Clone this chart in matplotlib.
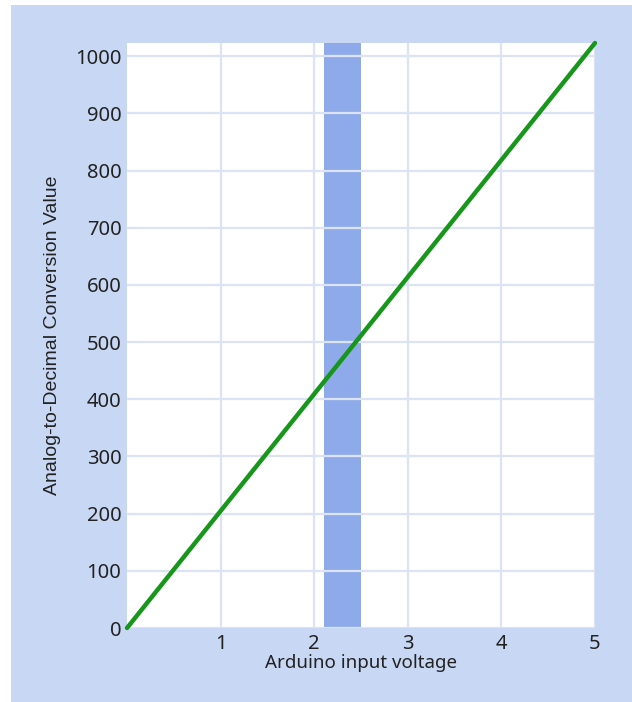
import matplotlib.pyplot as plt
from matplotlib.patches import Rectangle

# Arduino ADC transfer line and highlighted band
voltage = [0, 5]
adc_value = [0, 1023]
band = [2.1, 2.5]
x_ticks = [1, 2, 3, 4, 5]
y_ticks = [0, 100, 200, 300, 400, 500, 600, 700, 800, 900, 1000]

bg = '#c8d8f4'
grid_col = '#dce3f4'
tick_font = ['Noto Sans', 'DejaVu Sans']

fig = plt.figure(figsize=(6.32, 7.02), dpi=100)
fig.patches.append(Rectangle((11 / 632, 0), 1, 1 - 5 / 702, transform=fig.transFigure,
                             facecolor=bg, edgecolor='none', zorder=-10))

ax = fig.add_axes([127 / 632, 74 / 702, 468 / 632, 585 / 702])
ax.set_facecolor('white')
ax.axvspan(band[0], band[1], color='#8eaaea', zorder=1, lw=0)
ax.plot(voltage, adc_value, color='#17961c', lw=3.2, solid_capstyle='round', zorder=3,
        clip_on=False)

ax.set_xlim(0, 5)
ax.set_ylim(0, 1023)
ax.set_xticks(x_ticks)
ax.set_yticks(y_ticks)
ax.grid(True, color=grid_col, lw=1.6, zorder=2)
ax.set_axisbelow(False)
for s in ax.spines.values():
    s.set_visible(False)
ax.tick_params(length=0, pad=4, labelsize=14.5, labelcolor='#222222')
for lab in ax.get_xticklabels() + ax.get_yticklabels():
    lab.set_family(tick_font)

ax.set_xlabel('Arduino input voltage', fontsize=13.5, family=tick_font, color='#222222', labelpad=0)
ax.set_ylabel('Analog-to-Decimal Conversion Value', fontsize=14, family=['Liberation Sans', 'Arial'],
              color='#222222', labelpad=10)

fig.savefig('out.png', dpi=100)
